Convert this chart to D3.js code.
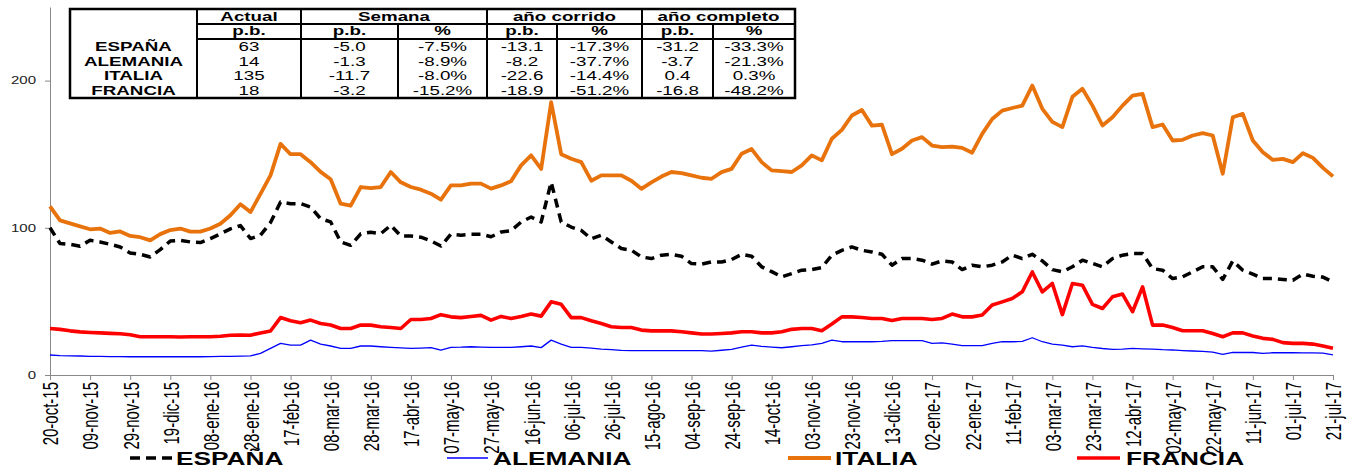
<!DOCTYPE html>
<html>
<head>
<meta charset="utf-8">
<script src="https://cdn.jsdelivr.net/npm/d3@7"></script>
<style>
  body { margin: 0; background: #fff; }
  svg { display: block; font-family: Arial, "Liberation Sans", sans-serif; }
</style>
</head>
<body>
<svg id="chart" width="1352" height="468"></svg>
<script>
// ---- data ----
const startDate = new Date(2015, 9, 20)   // 20-oct-15, one value every 5 days
const stepDays = 5

const espana = [
  100, 89.3, 88.8, 87.5, 91.5, 90.4, 88.8, 87, 82.9, 82,
  80.2, 85.2, 91, 91.5, 90.4, 90, 92.7, 95.9, 99.3, 101.5,
  92.7, 95, 103.6, 117.5, 116.4, 116.4, 114, 106.2, 104, 90.4,
  88.1, 95.9, 97, 96, 101.7, 94.4, 94.4, 93.6, 91.1, 87.6,
  95.7, 95, 95.7, 95.7, 93.9, 97.1, 98, 103.9, 107.3, 103.9,
  131, 104, 100.5, 98.2, 92.5, 95, 90.4, 85.9, 84.8, 80.2,
  79.1, 81.4, 82, 80.7, 75.7, 75.3, 76.8, 76.8, 78.4, 82,
  80.7, 73.5, 70.2, 66.7, 68.9, 71.2, 71.6, 73, 81.4, 84.7,
  87, 84.7, 83.6, 82, 74.6, 79.1, 79.1, 78, 75.3, 77.5,
  76.8, 71.6, 74.6, 73.5, 74.6, 76.8, 81.4, 79.1, 82, 77.5,
  71.6, 70.1, 73.5, 78, 75.8, 73.5, 79.1, 81.4, 82.5, 82.5,
  72.3, 71.2, 65.5, 66.7, 70.1, 73.5, 73.5, 64.9, 77.5, 71.2,
  68.5, 65.5, 65.5, 64.9, 64.4, 68.5, 67.1, 66.5, 63.3
]
const alemania = [
  13.6, 13.2, 13, 12.9, 12.7, 12.6, 12.5, 12.5, 12.4, 12.4,
  12.4, 12.4, 12.4, 12.4, 12.4, 12.4, 12.5, 12.6, 12.7, 12.8,
  13, 14.7, 18.1, 21.5, 20.3, 20.3, 23.7, 21, 19.7, 18.1,
  18.1, 19.7, 19.7, 19.2, 18.8, 18.4, 18.1, 18.3, 18.6, 16.9,
  18.8, 18.9, 19.2, 19, 18.8, 18.8, 18.8, 19.2, 19.7, 18.6,
  23.7, 21, 18.8, 18.8, 18.2, 17.6, 17.2, 16.7, 16.6, 16.5,
  16.5, 16.5, 16.5, 16.5, 16.6, 16.6, 16.2, 16.8, 17.4, 19,
  20.3, 19.4, 19, 18.5, 19.2, 19.9, 20.5, 21.5, 23.7, 22.6,
  22.6, 22.6, 22.6, 22.8, 23.3, 23.3, 23.3, 23.3, 21.5, 21.8,
  21, 20, 19.9, 19.9, 21.5, 22.6, 22.6, 22.8, 25.3, 22.6,
  21, 20.3, 19.2, 19.8, 18.8, 18, 17.4, 17.6, 18.1, 17.8,
  17.6, 17.2, 17, 16.6, 16.3, 16, 15.6, 14, 15.4, 15.3,
  15.3, 14.7, 15.1, 15.1, 15.1, 15, 15, 14.8, 13.6
]
const italia = [
  114.6, 105, 103, 101, 99, 99.5, 96.5, 97.5, 94.5, 93.6,
  91.5, 95.7, 98.5, 99.5, 97.4, 97.4, 99.5, 102.8, 108.5, 116,
  110.7, 123, 135.6, 157, 150, 150, 144.6, 138, 133, 116.4,
  115, 127.7, 127, 127.7, 137.9, 130.9, 127.7, 125.9, 123.2, 119.1,
  128.8, 128.8, 130, 130, 126.6, 128.8, 131.7, 142.4, 149.2, 140,
  185.3, 150, 146.9, 144.6, 132, 135.6, 135.6, 135.6, 132, 126.5,
  130.9, 134.8, 137.9, 137.2, 135.6, 134, 133.3, 137.8, 140, 150.3,
  153.5, 144.6, 139, 138.5, 137.9, 142.4, 149.2, 145.8, 160.5, 166.5,
  176.3, 180, 169.4, 170, 150, 153.7, 159.3, 161.6, 155.9, 154.8,
  155.2, 154.3, 151, 163.8, 173.9, 179.6, 181.4, 183, 196.6, 180.8,
  172, 168.4, 189, 194.4, 183, 169.5, 175.1, 183, 189.8, 191,
  168.4, 170.2, 159.3, 159.8, 162.7, 164.3, 162.7, 136.7, 175.1, 177.4,
  159.3, 151.4, 146.1, 146.8, 144.6, 150.7, 147.5, 140.7, 134.9
]
const francia = [
  31.6, 31, 30, 29.3, 28.9, 28.6, 28.3, 28, 27.3, 26,
  26, 26, 26, 25.8, 26, 26, 26, 26.3, 27, 27.1,
  27, 28.6, 29.9, 39, 36.9, 35.5, 37.3, 35, 34, 31.6,
  31.6, 34, 33.9, 32.8, 32.3, 31.6, 37.7, 37.7, 38.4, 41,
  39.5, 39, 39.8, 40.5, 37.3, 39.8, 38.4, 39.8, 41.4, 40,
  49.7, 48, 39, 39, 36.8, 35, 32.8, 32.3, 32.3, 30.5,
  30, 30, 30, 29.4, 28.6, 27.9, 27.9, 28.2, 28.6, 29.4,
  29.4, 28.6, 28.6, 29.4, 31, 31.6, 31.6, 30.1, 34.6, 39.5,
  39.5, 39.1, 38.4, 38.4, 37, 38.4, 38.4, 38.4, 37.7, 38.4,
  41.4, 39.5, 39.5, 40.7, 47.5, 49.7, 52, 56.5, 70, 56.5,
  62.2, 41, 62.2, 61, 48, 45.2, 53.1, 55, 43, 59.9,
  33.9, 33.9, 32.3, 30.1, 30.1, 30.1, 28.2, 26, 28.6, 28.6,
  26.5, 24.9, 24.2, 22, 21.5, 21.5, 21, 19.7, 18.1
]

const tickLabels = ["20-oct-15", "09-nov-15", "29-nov-15", "19-dic-15", "08-ene-16", "28-ene-16",
  "17-feb-16", "08-mar-16", "28-mar-16", "17-abr-16", "07-may-16", "27-may-16", "16-jun-16",
  "06-jul-16", "26-jul-16", "15-ago-16", "04-sep-16", "24-sep-16", "14-oct-16", "03-nov-16",
  "23-nov-16", "13-dic-16", "02-ene-17", "22-ene-17", "11-feb-17", "03-mar-17", "23-mar-17",
  "12-abr-17", "02-may-17", "22-may-17", "11-jun-17", "01-jul-17", "21-jul-17"]
const monthsEs = ["ene", "feb", "mar", "abr", "may", "jun", "jul", "ago", "sep", "oct", "nov", "dic"]
const yTicks = [0, 100, 200]

// table
const tableRows = ["ESPAÑA", "ALEMANIA", "ITALIA", "FRANCIA"]
const actualPb = ["63", "14", "135", "18"]
const semanaPb = ["-5.0", "-1.3", "-11.7", "-3.2"]
const semanaPct = ["-7.5%", "-8.9%", "-8.0%", "-15.2%"]
const corridoPb = ["-13.1", "-8.2", "-22.6", "-18.9"]
const corridoPct = ["-17.3%", "-37.7%", "-14.4%", "-51.2%"]
const completoPb = ["-31.2", "-3.7", "0.4", "-16.8"]
const completoPct = ["-33.3%", "-21.3%", "0.3%", "-48.2%"]
const groupHeaders = ["Actual", "Semana", "año corrido", "año completo"]
const subHeaders = ["p.b.", "p.b.", "%", "p.b.", "%", "p.b.", "%"]

const seriesInfo = [
  { name: "ESPAÑA", values: espana, color: "#000000", width: 3.5, dash: "9,6" },
  { name: "ALEMANIA", values: alemania, color: "#0000ff", width: 1.3, dash: null },
  { name: "ITALIA", values: italia, color: "#e8720c", width: 3.8, dash: null },
  { name: "FRANCIA", values: francia, color: "#ff0000", width: 3.6, dash: null }
]

// ---- helpers ----
const parseLabel = s => {
  const p = s.split("-")
  return new Date(2000 + +p[2], monthsEs.indexOf(p[1]), +p[0])
}
// the picture is widened horizontally, so widen the glyphs too
function stretch(sel, k) {
  sel.each(function () {
    const w = this.getComputedTextLength()
    d3.select(this).attr("textLength", w * k).attr("lengthAdjust", "spacingAndGlyphs")
  })
}

const svg = d3.select("#chart")
const tickDates = tickLabels.map(parseLabel)

const x = d3.scaleTime()
  .domain([tickDates[0], tickDates[tickDates.length - 1]])
  .range([50, 1333])
const y = d3.scaleLinear().domain([0, 250]).range([375, 7])

// y axis
const yAxis = svg.append("g")
  .attr("transform", "translate(50,0)")
  .call(d3.axisLeft(y).tickValues(yTicks).tickSize(5).tickSizeOuter(0).tickPadding(9))
yAxis.select(".domain").attr("stroke", "#888")
yAxis.selectAll(".tick line").attr("stroke", "#888")
yAxis.selectAll(".tick text").attr("font-size", 10).attr("fill", "#222")
  .attr("font-family", "Arial, 'Liberation Sans', sans-serif")
stretch(yAxis.selectAll(".tick text"), 1.5)

// x axis
const xAxis = svg.append("g")
  .attr("transform", "translate(0,375)")
  .call(d3.axisBottom(x).tickValues(tickDates).tickSize(5).tickSizeOuter(0)
    .tickFormat((d, i) => tickLabels[i]))
xAxis.select(".domain").attr("stroke", "#888")
xAxis.selectAll(".tick line").attr("stroke", "#888")
xAxis.selectAll(".tick text")
  .attr("font-size", 15)
  .attr("font-family", "Arial, 'Liberation Sans', sans-serif")
  .attr("fill", "#000")
  .attr("x", 0).attr("y", 0)
  .attr("dy", "0.35em")
  .attr("text-anchor", "end")
  .attr("transform", "translate(0,7) scale(1.5,1) rotate(-90)")

// lines
const line = d3.line()
  .x((d, i) => x(d3.timeDay.offset(startDate, i * stepDays)))
  .y(d => y(d))

svg.append("g").selectAll("path")
  .data(seriesInfo)
  .join("path")
  .attr("d", d => line(d.values))
  .attr("fill", "none")
  .attr("stroke", d => d.color)
  .attr("stroke-width", d => d.width)
  .attr("stroke-dasharray", d => d.dash)
  .attr("stroke-linejoin", "round")

// table
const cols = [70, 197, 301, 398, 487, 557, 642, 713, 795]
const tTop = 9, tH1 = 24, tH2 = 39, tBot = 98
const table = svg.append("g")
table.append("rect").attr("x", cols[0]).attr("y", tTop)
  .attr("width", cols[8] - cols[0]).attr("height", tBot - tTop)
  .attr("fill", "#fff").attr("stroke", "#000").attr("stroke-width", 2.5)
table.append("line").attr("x1", cols[1]).attr("x2", cols[8]).attr("y1", tH1).attr("y2", tH1)
  .attr("stroke", "#000").attr("stroke-width", 2)
table.append("line").attr("x1", cols[1]).attr("x2", cols[8]).attr("y1", tH2).attr("y2", tH2)
  .attr("stroke", "#000").attr("stroke-width", 2)
const fullCols = [cols[1], cols[2], cols[4], cols[6]]
const subCols = [cols[3], cols[5], cols[7]]
table.selectAll(".vfull").data(fullCols).join("line")
  .attr("x1", d => d).attr("x2", d => d).attr("y1", tTop).attr("y2", tBot)
  .attr("stroke", "#000").attr("stroke-width", 2)
table.selectAll(".vsub").data(subCols).join("line")
  .attr("x1", d => d).attr("x2", d => d).attr("y1", tH1).attr("y2", tBot)
  .attr("stroke", "#000").attr("stroke-width", 2)

const groupSpans = [[cols[1], cols[2]], [cols[2], cols[4]], [cols[4], cols[6]], [cols[6], cols[8]]]
const hdr = table.selectAll(".gh").data(groupHeaders).join("text")
  .attr("x", (d, i) => (groupSpans[i][0] + groupSpans[i][1]) / 2)
  .attr("y", 21)
  .attr("text-anchor", "middle").attr("font-size", 12.5).attr("font-weight", "bold")
  .text(d => d)
stretch(hdr, 1.5)

const sub = table.selectAll(".sh").data(subHeaders).join("text")
  .attr("x", (d, i) => (cols[i + 1] + cols[i + 2]) / 2)
  .attr("y", 35)
  .attr("text-anchor", "middle").attr("font-size", 12.5).attr("font-weight", "bold")
  .text(d => d)
stretch(sub, 1.5)

const rowY = i => 51 + i * 14.6
const rl = table.selectAll(".rl").data(tableRows).join("text")
  .attr("x", (cols[0] + cols[1]) / 2).attr("y", (d, i) => rowY(i))
  .attr("text-anchor", "middle").attr("font-size", 12.5).attr("font-weight", "bold")
  .text(d => d)
stretch(rl, 1.5)

const tableCols = [actualPb, semanaPb, semanaPct, corridoPb, corridoPct, completoPb, completoPct]
tableCols.forEach((colVals, c) => {
  const t = table.append("g").selectAll("text").data(colVals).join("text")
    .attr("x", (cols[c + 1] + cols[c + 2]) / 2).attr("y", (d, i) => rowY(i))
    .attr("text-anchor", "middle").attr("font-size", 12.5)
    .text(d => d)
  stretch(t, 1.5)
})

// legend
const legendPos = [
  { x1: 130, x2: 172, tx: 176 },
  { x1: 447, x2: 488, tx: 493 },
  { x1: 788, x2: 831, tx: 835 },
  { x1: 1077, x2: 1120, tx: 1126 }
]
const legend = svg.append("g")
seriesInfo.forEach((s, i) => {
  const p = legendPos[i]
  legend.append("line")
    .attr("x1", p.x1).attr("x2", p.x2).attr("y1", 458).attr("y2", 458)
    .attr("stroke", s.color).attr("stroke-width", s.width)
    .attr("stroke-dasharray", s.dash ? "10,6" : null)
  const t = legend.append("text")
    .attr("x", p.tx).attr("y", 464.5)
    .attr("font-size", 17.5).attr("font-weight", "bold")
    .text(s.name)
  stretch(t, 1.5)
})
</script>
</body>
</html>
